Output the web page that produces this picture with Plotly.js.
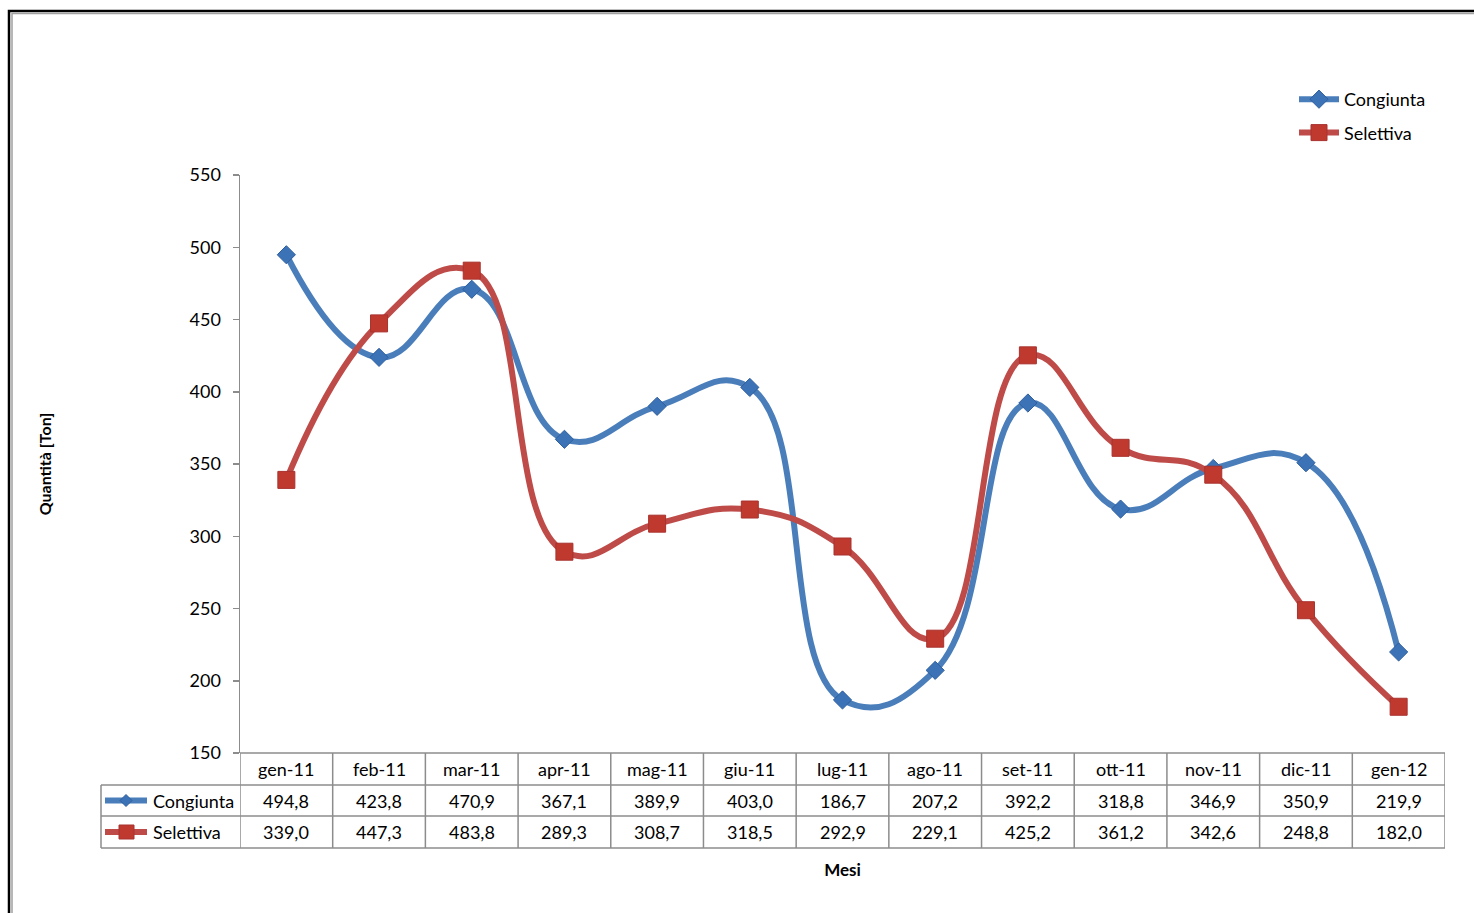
<!DOCTYPE html>
<html>
<head>
<meta charset="utf-8">
<script src="https://cdn.plot.ly/plotly-3.0.1.min.js"></script>
<style>html,body{margin:0;padding:0;background:#fff;}#chart{width:1474px;height:913px;}</style>
</head>
<body>
<div id="chart"></div>
<script>
const months = ['gen-11','feb-11','mar-11','apr-11','mag-11','giu-11','lug-11','ago-11','set-11','ott-11','nov-11','dic-11','gen-12'];
const congiunta = [494.8,423.8,470.9,367.1,389.9,403.0,186.7,207.2,392.2,318.8,346.9,350.9,219.9];
const selettiva = [339.0,447.3,483.8,289.3,308.7,318.5,292.9,229.1,425.2,361.2,342.6,248.8,182.0];
const yTicks = [150,200,250,300,350,400,450,500,550];

const FONT = 'Lato, "Open Sans", sans-serif';
const BLUE = '#4A7EBB', RED = '#BE4B48';
const GRID = '#8c8c8c';

// pixel helpers for plot area: l=240, w=1205, t=175, h=578
const W = 1205, H = 578, L = 240, T = 175;
const px = x => (x - L) / W;
const py = y => (T + H - y) / H;

const fmt = v => v.toFixed(1).replace('.', ',');

const traces = [
  {x: months, y: congiunta, name: 'Congiunta', type: 'scatter', mode: 'lines+markers', legendgroup: 'a',
   line: {color: BLUE, width: 6, shape: 'spline', smoothing: 1.3},
   marker: {symbol: 'diamond', size: 14, color: '#3C72B6', line: {color: '#2F5F9E', width: 1}}},
  {x: months, y: selettiva, name: 'Selettiva', type: 'scatter', mode: 'lines+markers', legendgroup: 'b',
   line: {color: RED, width: 6, shape: 'spline', smoothing: 1.3},
   marker: {symbol: 'square', size: 17, color: '#C0392F', line: {color: '#A8322E', width: 1}}}
];

const shapes = [];
const annotations = [];
const n = months.length;
const rowY = [753, 785, 816, 848];
const cellFont = {family: FONT, size: 18, color: '#000'};
// horizontal table lines
shapes.push({type:'line', xref:'x', yref:'paper', x0:-0.5, x1:n-0.5, y0:py(753), y1:py(753), line:{color:GRID, width:1.5}});
for (let r = 1; r < rowY.length; r++) {
  shapes.push({type:'line', xref:'paper', yref:'paper', x0:px(101), x1:1, y0:py(rowY[r]), y1:py(rowY[r]), line:{color:GRID, width:1.5}});
}
// vertical table lines
for (let i = 0; i <= n; i++) {
  shapes.push({type:'line', xref:'x', yref:'paper', x0:i-0.5, x1:i-0.5, y0:py(848), y1:py(753), line:{color:GRID, width:1.5}});
}
shapes.push({type:'line', xref:'paper', yref:'paper', x0:px(101), x1:px(101), y0:py(848), y1:py(785), line:{color:GRID, width:1.5}});

// table text
months.forEach((m, i) => {
  annotations.push({xref:'x', yref:'paper', x:m, y:py(769), xanchor:'center', yanchor:'middle', text:m, showarrow:false, font:cellFont});
  annotations.push({xref:'x', yref:'paper', x:m, y:py(800.5), xanchor:'center', yanchor:'middle', text:fmt(congiunta[i]), showarrow:false, font:cellFont});
  annotations.push({xref:'x', yref:'paper', x:m, y:py(832), xanchor:'center', yanchor:'middle', text:fmt(selettiva[i]), showarrow:false, font:cellFont});
});
// legend keys in table
[[800.5, BLUE, 'Congiunta', 'diamond'], [832, RED, 'Selettiva', 'square']].forEach(([yy, c, name, sym]) => {
  shapes.push({type:'line', xref:'paper', yref:'paper', x0:px(105), x1:px(147), y0:py(yy), y1:py(yy), line:{color:c, width:6}});
  if (sym === 'diamond') {
    const cx = 126, cy = yy;
    shapes.push({type:'path', xref:'paper', yref:'paper',
      path:`M ${px(cx-6)} ${py(cy)} L ${px(cx)} ${py(cy-6)} L ${px(cx+6)} ${py(cy)} L ${px(cx)} ${py(cy+6)} Z`,
      fillcolor:'#3C72B6', line:{color:'#2F5F9E', width:1}});
  } else {
    shapes.push({type:'rect', xref:'paper', yref:'paper', x0:px(119), x1:px(134), y0:py(yy+7), y1:py(yy-7),
      fillcolor:'#C0392F', line:{color:'#A8322E', width:1}});
  }
  annotations.push({xref:'paper', yref:'paper', x:px(151), y:py(yy), xanchor:'left', yanchor:'middle', text:name, showarrow:false, font:cellFont});
});

// outer chart border
shapes.push({type:'rect', xref:'paper', yref:'paper', x0:px(9), x1:px(1490), y0:py(930), y1:py(11), line:{color:'#000', width:2.5}, layer:'above'});
shapes.push({type:'rect', xref:'paper', yref:'paper', x0:px(12), x1:px(1490), y0:py(930), y1:py(13.5), line:{color:'#a0a0a0', width:1.5}, layer:'above'});

const layout = {
  width: 1474, height: 913,
  margin: {l: L, r: 1474 - L - W, t: T, b: 913 - T - H},
  paper_bgcolor: '#fff', plot_bgcolor: '#fff',
  font: {family: FONT, size: 18, color: '#000'},
  showlegend: true,
  legend: {x: px(1294), y: py(81), xanchor: 'left', yanchor: 'top', font: {family: FONT, size: 18, color: '#000'},
           bgcolor: 'rgba(0,0,0,0)', itemwidth: 40, tracegroupgap: 7, traceorder: 'grouped'},
  xaxis: {type: 'category', range: [-0.5, n - 0.5], showticklabels: false, ticks: '', showgrid: false, zeroline: false,
          showline: false, fixedrange: true,
          title: {text: '<b>Mesi</b>', standoff: 111, font: {family: FONT, size: 17, color: '#000'}}},
  yaxis: {range: [150, 550], tickvals: yTicks, ticktext: yTicks.map(String), ticks: 'outside', ticklen: 6, tickcolor: GRID,
          tickwidth: 1.5, showline: true, linecolor: GRID, linewidth: 1.5, showgrid: false, zeroline: false,
          ticklabelstandoff: 8,
          tickfont: {family: FONT, size: 18, color: '#000'},
          title: {text: '<b>Quantità [Ton]</b>', standoff: 134, font: {family: FONT, size: 16, color: '#000'}}},
  shapes: shapes,
  annotations: annotations
};

Plotly.newPlot('chart', traces, layout, {displayModeBar: false, staticPlot: true});
</script>
</body>
</html>
